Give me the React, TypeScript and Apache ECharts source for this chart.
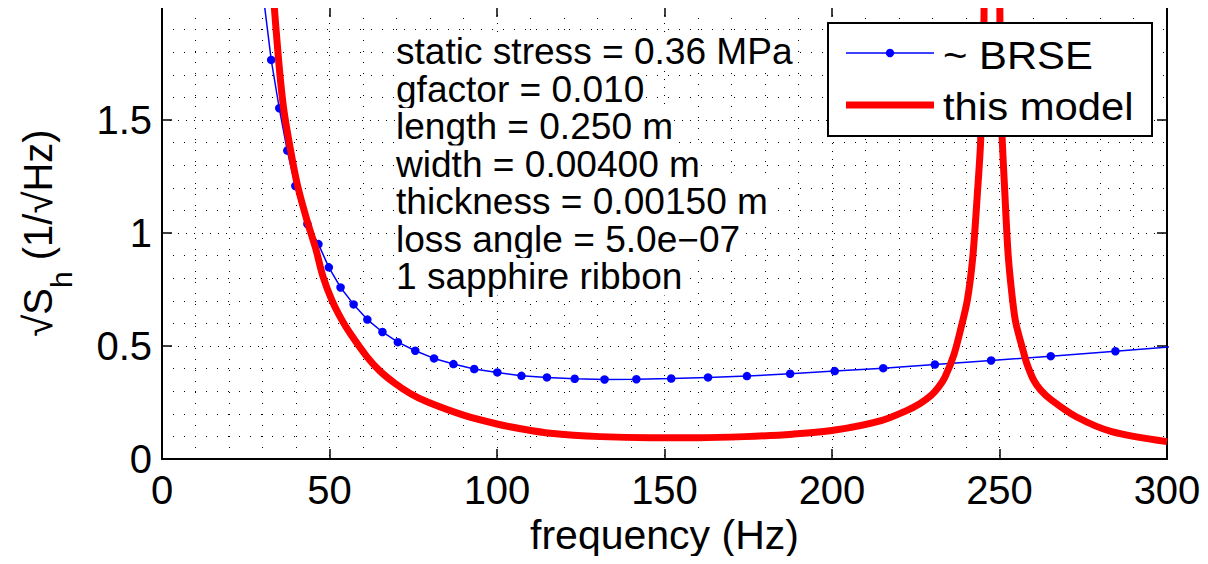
import React, { useEffect, useRef } from "react";
import * as echarts from "echarts";

const xTicks = [0, 50, 100, 150, 200, 250, 300];
const yTicks = [0, 0.5, 1, 1.5];

const brseFreq = [30.4, 32.6, 35.0, 37.4, 39.8, 43.4, 46.7, 49.8, 53.3, 57.2, 61.3, 65.8, 70.4, 75.6, 81.2, 87.0, 93.2, 100.1, 107.3, 114.9, 123.2, 132.1, 141.6, 152.0, 163.0, 174.6, 187.5, 200.8, 215.3, 230.7, 247.5, 265.3, 284.6, 305.0];
const brseValue = [2.03, 1.766, 1.552, 1.365, 1.208, 1.04, 0.951, 0.848, 0.759, 0.684, 0.617, 0.562, 0.517, 0.479, 0.445, 0.42, 0.398, 0.383, 0.368, 0.361, 0.355, 0.352, 0.353, 0.356, 0.361, 0.367, 0.377, 0.389, 0.402, 0.418, 0.436, 0.455, 0.477, 0.5];

const modelFreq = [33.0, 34.8, 36.3, 38.4, 40.5, 43.2, 45.9, 48.0, 50.7, 53.5, 56.2, 61.2, 65.0, 69.6, 74.1, 79.1, 90.0, 100.0, 107.5, 115.9, 130.9, 145.8, 160.0, 173.9, 188.2, 200.9, 214.7, 222.1, 226.3, 229.5, 231.8, 233.7, 236.4, 238.5, 240.4, 242.0, 243.4, 244.4, 245.4, 247.6, 250.1, 250.6, 251.6, 252.6, 253.9, 254.9, 257.0, 258.1, 260.2, 262.3, 265.5, 272.9, 283.5, 300.0];
const modelValue = [2.1, 1.766, 1.552, 1.365, 1.208, 1.06, 0.93, 0.81, 0.703, 0.62, 0.555, 0.452, 0.39, 0.334, 0.29, 0.253, 0.194, 0.155, 0.133, 0.114, 0.099, 0.094, 0.094, 0.099, 0.11, 0.128, 0.17, 0.213, 0.246, 0.28, 0.318, 0.362, 0.462, 0.58, 0.703, 0.89, 1.175, 1.418, 2.0, 12.0, 2.0, 1.5, 1.175, 0.9, 0.703, 0.6, 0.482, 0.425, 0.349, 0.305, 0.261, 0.187, 0.121, 0.077];

const legendNames = ["~ BRSE", "this model"];
const infoLines = [
  "static stress = 0.36 MPa",
  "gfactor = 0.010",
  "length = 0.250 m",
  "width = 0.00400 m",
  "thickness = 0.00150 m",
  "loss angle = 5.0e\u221207",
  "1 sapphire ribbon",
];
const xName = "frequency (Hz)";
const yName = "{m|\u221aS}{sub|h}{m| (1/\u221aHz)}";

const FONT = '"Liberation Sans", Arial, Helvetica, sans-serif';
const BLUE = "#0000ff";
const RED = "#ff0000";

export default function App() {
  const ref = useRef<HTMLDivElement>(null);
  useEffect(() => {
    if (!ref.current) return;
    const chart = echarts.init(ref.current, null, { renderer: "svg" });
    const gridMajor = { color: "#000", width: 1, type: [1, 7] as number[] };
    const gridMinor = { color: "#000", width: 1, type: [1, 10] as number[] };
    const axisLineStyle = { color: "#000", width: 2 };
    const tickStyle = { color: "#000", width: 1.5 };

    const legendGraphic: any[] = [
      {
        type: "rect",
        z: 20,
        shape: { x: 828, y: 23, width: 324, height: 113 },
        style: { fill: "#fff", stroke: "#000", lineWidth: 2 },
      },
      {
        type: "line",
        z: 21,
        shape: { x1: 846, y1: 53, x2: 934, y2: 53 },
        style: { stroke: BLUE, lineWidth: 1.5 },
      },
      {
        type: "circle",
        z: 22,
        shape: { cx: 890, cy: 53, r: 4.2 },
        style: { fill: BLUE },
      },
      {
        type: "line",
        z: 21,
        shape: { x1: 846, y1: 105, x2: 934, y2: 105 },
        style: { stroke: RED, lineWidth: 7 },
      },
      ...legendNames.map((n, i) => ({
        type: "text",
        z: 22,
        x: 943,
        y: 56 + i * 51,
        scaleX: 1.1,
        style: { text: n, font: `38px ${FONT}`, fill: "#000", verticalAlign: "middle" },
      })),
    ];

    const option: any = {
      animation: false,
      backgroundColor: "#fff",
      grid: { left: 162, right: 41, top: 7, bottom: 105, containLabel: false },
      xAxis: [
        {
          type: "value",
          min: xTicks[0],
          max: xTicks[xTicks.length - 1],
          interval: xTicks[1] - xTicks[0],
          position: "bottom",
          axisLine: { show: true, onZero: false, lineStyle: axisLineStyle },
          axisTick: { show: true, inside: true, length: 10, lineStyle: tickStyle },
          axisLabel: { color: "#000", fontSize: 40, fontFamily: FONT, margin: 11 },
          splitLine: { show: true, lineStyle: gridMajor },
          minorTick: { show: false, splitNumber: 5 },
          minorSplitLine: { show: true, lineStyle: gridMinor },
          name: xName,
          nameLocation: "middle",
          nameGap: 55,
          nameTextStyle: { color: "#000", fontSize: 41, fontFamily: FONT },
        },
        {
          type: "value",
          min: xTicks[0],
          max: xTicks[xTicks.length - 1],
          interval: xTicks[1] - xTicks[0],
          position: "top",
          axisLine: { show: true, onZero: false, lineStyle: axisLineStyle },
          axisTick: { show: true, inside: true, length: 10, lineStyle: tickStyle },
          axisLabel: { show: false },
          splitLine: { show: false },
        },
      ],
      yAxis: [
        {
          type: "value",
          min: yTicks[0],
          max: 2,
          interval: yTicks[1] - yTicks[0],
          position: "left",
          axisLine: { show: true, onZero: false, lineStyle: axisLineStyle },
          axisTick: { show: true, inside: true, length: 10, lineStyle: tickStyle },
          axisLabel: {
            color: "#000",
            fontSize: 40,
            fontFamily: FONT,
            margin: 10,
            showMaxLabel: false,
            formatter: (v: number) => (yTicks.indexOf(v) >= 0 ? String(v) : ""),
          },
          splitLine: { show: true, lineStyle: gridMajor },
          minorTick: { show: false, splitNumber: 5 },
          minorSplitLine: { show: true, lineStyle: gridMinor },
          name: yName,
          nameLocation: "middle",
          nameGap: 104,
          nameTextStyle: {
            color: "#000",
            fontSize: 40,
            fontFamily: FONT,
            rich: {
              m: { fontSize: 40, fontFamily: FONT, color: "#000", lineHeight: 40, verticalAlign: "top" },
              sub: { fontSize: 30, fontFamily: FONT, color: "#000", lineHeight: 30, verticalAlign: "top", padding: [28, 0, 0, 0] },
            },
          },
        },
        {
          type: "value",
          min: yTicks[0],
          max: 2,
          interval: yTicks[1] - yTicks[0],
          position: "right",
          axisLine: { show: true, onZero: false, lineStyle: axisLineStyle },
          axisTick: { show: true, inside: true, length: 10, lineStyle: tickStyle },
          axisLabel: { show: false },
          splitLine: { show: false },
        },
      ],
      graphic: [
        ...infoLines.map((t, i) => ({
          type: "text",
          x: 396,
          y: 33 + i * 37.5,
          scaleX: 1.03,
          z: 5,
          style: {
            text: t,
            font: `36px ${FONT}`,
            fill: "#000",
            lineHeight: 37.5,
            verticalAlign: "top",
            backgroundColor: "#fff",
          },
        })),
        ...legendGraphic,
      ],
      series: [
        {
          name: legendNames[0],
          type: "line",
          xAxisIndex: 0,
          yAxisIndex: 0,
          data: brseFreq.map((f, i) => [f, brseValue[i]]),
          symbol: "circle",
          symbolSize: 8.5,
          showSymbol: true,
          showAllSymbol: true,
          lineStyle: { color: BLUE, width: 1.5 },
          itemStyle: { color: BLUE },
          clip: true,
          z: 3,
        },
        {
          name: legendNames[1],
          type: "line",
          xAxisIndex: 0,
          yAxisIndex: 0,
          data: modelFreq.map((f, i) => [f, modelValue[i]]),
          symbol: "none",
          smooth: 0.3,
          lineStyle: { color: RED, width: 7, join: "round" },
          itemStyle: { color: RED },
          clip: true,
          z: 4,
        },
      ],
    };
    chart.setOption(option);
    return () => chart.dispose();
  }, []);
  return <div ref={ref} style={{ width: 1208, height: 564, margin: -8 }} />;
}
